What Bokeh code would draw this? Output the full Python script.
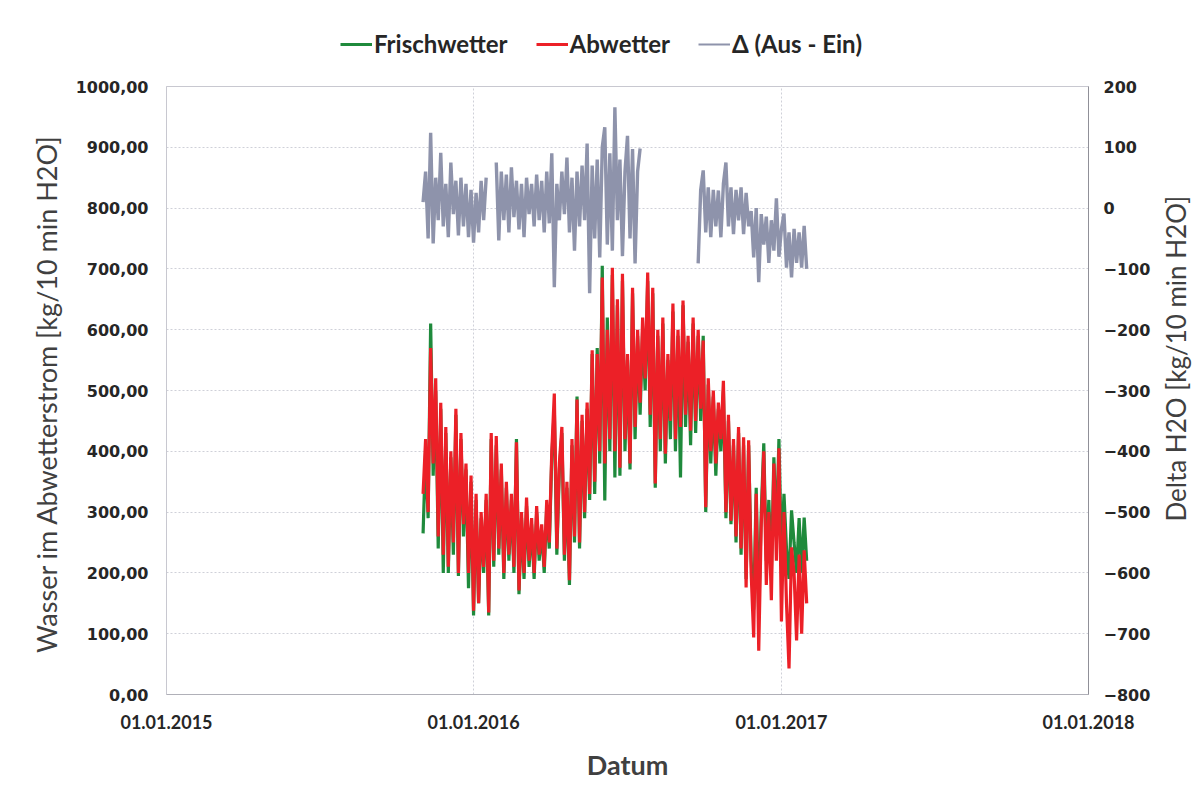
import numpy as np
import pandas as pd
from bokeh.plotting import figure
from bokeh.layouts import column, row
from bokeh.models import (Range1d, LinearAxis, FixedTicker, DatetimeTickFormatter,
                          CustomJSTickFormatter, Legend, LegendItem, ColumnDataSource,
                          Label)
from bokeh.embed import file_html
from bokeh.resources import INLINE

nan = float("nan")

# sample times (every 3 days, 2015-11-02 .. 2017-02-01)
start_date = "2015-11-02"
n_points = 153

# Abwetter (red)  [kg/10 min H2O]
abwetter = [
    330, 420, 300, 570, 380, 520, 260, 480, 230, 440,
    210, 400, 250, 470, 200, 430, 280, 380, 200, 360,
    138, 330, 150, 300, 210, 330, 135, 430, 220, 425,
    240, 380, 200, 350, 230, 330, 210, 415, 171, 300,
    200, 324, 220, 290, 200, 310, 230, 280, 210, 320,
    250, 400, 495, 240, 380, 440, 230, 350, 188, 420,
    260, 485, 250, 460, 300, 480, 330, 566, 350, 560,
    400, 686, 380, 600, 420, 702, 400, 650, 373, 692,
    420, 560, 380, 669, 440, 600, 480, 620, 520, 694,
    460, 669, 347, 600, 420, 620, 396, 560, 450, 643,
    420, 600, 440, 648, 460, 590, 434, 620, 450, 600,
    470, 582, 308, 520, 400, 500, 380, 480, 420, 516,
    300, 460, 286, 420, 260, 440, 240, 423, 176, 418,
    200, 94, 330, 72, 280, 400, 180, 300, 155, 380,
    220, 405, 120, 300, 150, 43, 242, 200, 89, 230,
    100, 237, 150,
]

# Frischwetter (green)  [kg/10 min H2O]
frischwetter = [
    265, 400, 290, 610, 360, 500, 240, 470, 200, 430,
    200, 390, 230, 460, 195, 420, 260, 370, 175, 350,
    130, 320, 150, 290, 200, 320, 130, 420, 210, 410,
    230, 370, 190, 340, 220, 320, 200, 420, 165, 290,
    190, 310, 210, 280, 190, 300, 220, 270, 200, 310,
    240, 390, 470, 230, 370, 430, 220, 340, 180, 410,
    250, 490, 240, 450, 290, 470, 320, 560, 330, 570,
    380, 705, 319, 620, 400, 690, 357, 640, 360, 680,
    400, 550, 370, 660, 420, 590, 460, 600, 500, 680,
    440, 660, 340, 590, 400, 610, 380, 550, 420, 630,
    400, 590, 357, 640, 440, 580, 410, 610, 430, 590,
    450, 590, 300, 510, 380, 490, 360, 470, 400, 500,
    290, 450, 280, 410, 250, 430, 230, 410, 190, 410,
    220, 140, 340, 130, 300, 413, 220, 320, 200, 390,
    260, 420, 230, 330, 240, 190, 303, 250, 200, 290,
    200, 291, 220,
]

# Delta (Aus - Ein)  [kg/10 min H2O], right axis
delta = [
    10, 60, -50, 124, -58, 50, -20, 91, -30, 40,
    -48, 75, -10, 45, -45, 50, -30, 40, -48, 30,
    -57, 25, -40, 45, -20, 50, nan, nan, nan, 75,
    -53, 60, -20, 55, -40, 67, -15, 45, -35, 40,
    -48, 50, -10, 40, -30, 55, -20, 45, -40, 60,
    -25, 90, -130, 40, -20, 60, -10, 83, -40, 50,
    -70, 60, -30, 70, -20, 106, -140, 70, -50, 80,
    -81, 100, 133, -60, 90, -70, 166, -20, 80, -79,
    60, 119, -50, 97, -91, 60, 98, nan, nan, nan,
    nan, nan, nan, nan, nan, nan, nan, nan, nan, nan,
    nan, nan, nan, nan, nan, nan, nan, nan, nan, -91,
    30, 62, -40, 34, -48, 30, -30, 29, -48, 40,
    75, -30, 34, -43, 30, -20, 34, -43, 25, -30,
    -5, -81, 0, -122, -10, -60, -14, -90, -20, -70,
    16, -80, -34, -9, -98, -40, -114, -34, -90, -40,
    -98, -29, -100,
]

year_ticks = ["2015-01-01", "2016-01-01", "2017-01-01", "2018-01-01"]
legend_labels = ["Frischwetter", "Abwetter", "\u0394 (Aus - Ein)"]
left_title = "Wasser im Abwetterstrom  [kg/10 min H2O]"
right_title = "Delta H2O [kg/10 min H2O]"
x_title = "Datum"

C_FR = "#1f8a3c"
C_AB = "#ec2027"
C_DE = "#8e93ab"

dates = pd.date_range(start_date, periods=n_points, freq="3D")
src = ColumnDataSource(dict(
    date=dates,
    ab=np.array(abwetter, dtype=float),
    fr=np.array(frischwetter, dtype=float),
    de=np.array(delta, dtype=float),
))

tick_ms = [pd.Timestamp(t).timestamp() * 1000 for t in year_ticks]

TICK_FONT = "DejaVu Sans"
TITLE_FONT = "Lato"
TXT = "#262626"
TTL = "#404040"
LEG_H = 70
MAIN_H = 785 - LEG_H
MAIN_W = 1158
SIDE_W = 40


def blank(fig):
    fig.grid.visible = False
    fig.outline_line_color = None
    fig.background_fill_color = "white"
    fig.border_fill_color = "white"


# ---------- legend strip (keys only; hidden point lies outside its range) ----------
lf = figure(width=1198, height=LEG_H, x_range=Range1d(0, 1), y_range=Range1d(0, 1),
            x_axis_location=None, y_axis_location=None,
            output_backend="svg", toolbar_location=None, min_border=0)
blank(lf)
key_src = ColumnDataSource(dict(x=[-5, -4], y=[-5, -5]))
g_fr = lf.line("x", "y", source=key_src, line_color=C_FR, line_width=3)
g_ab = lf.line("x", "y", source=key_src, line_color=C_AB, line_width=3)
g_de = lf.line("x", "y", source=key_src, line_color=C_DE, line_width=2)
legend = Legend(items=[LegendItem(label=legend_labels[0], renderers=[g_fr]),
                       LegendItem(label=legend_labels[1], renderers=[g_ab]),
                       LegendItem(label=legend_labels[2], renderers=[g_de])],
                orientation="horizontal", location=(340, 12),
                label_text_font=TITLE_FONT, label_text_font_style="bold",
                label_text_font_size="24px", label_text_color=TXT,
                glyph_width=32, label_standoff=2, spacing=28,
                padding=4, margin=0,
                border_line_color=None, background_fill_alpha=0)
lf.add_layout(legend, "center")

# ---------- main chart ----------
p = figure(width=MAIN_W, height=MAIN_H, x_axis_type="datetime",
           x_range=Range1d(tick_ms[0], tick_ms[-1]), y_range=Range1d(0, 1000),
           output_backend="svg", toolbar_location=None,
           min_border_left=166, min_border_right=MAIN_W - 1088,
           min_border_top=86 - LEG_H, min_border_bottom=91)
p.extra_y_ranges = {"delta": Range1d(-800, 200)}

xa = p.xaxis[0]
xa.ticker = FixedTicker(ticks=tick_ms)
xa.formatter = DatetimeTickFormatter(years="%d.%m.%Y", months="%d.%m.%Y",
                                     days="%d.%m.%Y")
xa.axis_label = x_title
xa.axis_label_text_font = TITLE_FONT
xa.axis_label_text_font_style = "bold"
xa.axis_label_text_font_size = "27px"
xa.axis_label_text_color = TTL
xa.axis_label_standoff = 16
xa.major_label_text_font = TITLE_FONT
xa.major_label_text_font_style = "bold"
xa.major_label_text_font_size = "18px"
xa.major_label_text_color = TXT
xa.major_label_standoff = 20
xa.major_tick_out = 0
xa.major_tick_in = 0
xa.minor_tick_out = 0
xa.minor_tick_in = 0
xa.axis_line_color = "#b0b0b8"

ya = p.yaxis[0]
ya.ticker = FixedTicker(ticks=list(range(0, 1001, 100)))
ya.formatter = CustomJSTickFormatter(code="return tick.toFixed(2).replace('.', ',');")
ya.axis_label = left_title
ya.axis_label_text_font = TITLE_FONT
ya.axis_label_text_font_style = "normal"
ya.axis_label_text_font_size = "27px"
ya.axis_label_text_color = TTL
ya.axis_label_standoff = 10
ya.major_label_text_font = TICK_FONT
ya.major_label_text_font_style = "bold"
ya.major_label_text_font_size = "16px"
ya.major_label_text_color = TXT
ya.major_label_standoff = 18
ya.major_tick_out = 0
ya.major_tick_in = 0
ya.minor_tick_out = 0
ya.minor_tick_in = 0
ya.axis_line_color = "#c8c8d0"

ra = LinearAxis(y_range_name="delta")
ra.ticker = FixedTicker(ticks=list(range(-800, 201, 100)))
ra.major_label_text_font = TICK_FONT
ra.major_label_text_font_style = "bold"
ra.major_label_text_font_size = "16px"
ra.major_label_text_color = TXT
ra.major_label_standoff = 15
ra.major_tick_out = 0
ra.major_tick_in = 0
ra.minor_tick_out = 0
ra.minor_tick_in = 0
ra.axis_line_color = "#909098"
p.add_layout(ra, "right")

p.xgrid.ticker = FixedTicker(ticks=tick_ms)
p.xgrid.grid_line_color = "#cfd0d8"
p.xgrid.grid_line_dash = "2 2"
p.ygrid.grid_line_color = "#cfd0d8"
p.ygrid.grid_line_dash = "2 2"
p.outline_line_color = "#c8c8d0"
p.background_fill_color = "white"
p.border_fill_color = "white"

p.line("date", "de", source=src, y_range_name="delta",
       line_color=C_DE, line_width=3.4)
p.line("date", "fr", source=src, line_color=C_FR, line_width=3.2)
p.line("date", "ab", source=src, line_color=C_AB, line_width=3.2)

# ---------- right axis title strip ----------
tf = figure(width=SIDE_W, height=MAIN_H, x_range=Range1d(0, SIDE_W),
            y_range=Range1d(0, MAIN_H), x_axis_location=None, y_axis_location=None,
            output_backend="svg", toolbar_location=None, min_border=0)
blank(tf)
tf.add_layout(Label(x=17, y=MAIN_H - (390 - LEG_H), text=right_title,
                    angle=float(np.pi / 2), text_align="center",
                    text_baseline="middle", text_font=TITLE_FONT,
                    text_font_size="26px", text_color=TTL))

layout = column(lf, row(p, tf, spacing=0), spacing=0)
open("out.html", "w").write(file_html(layout, INLINE))
